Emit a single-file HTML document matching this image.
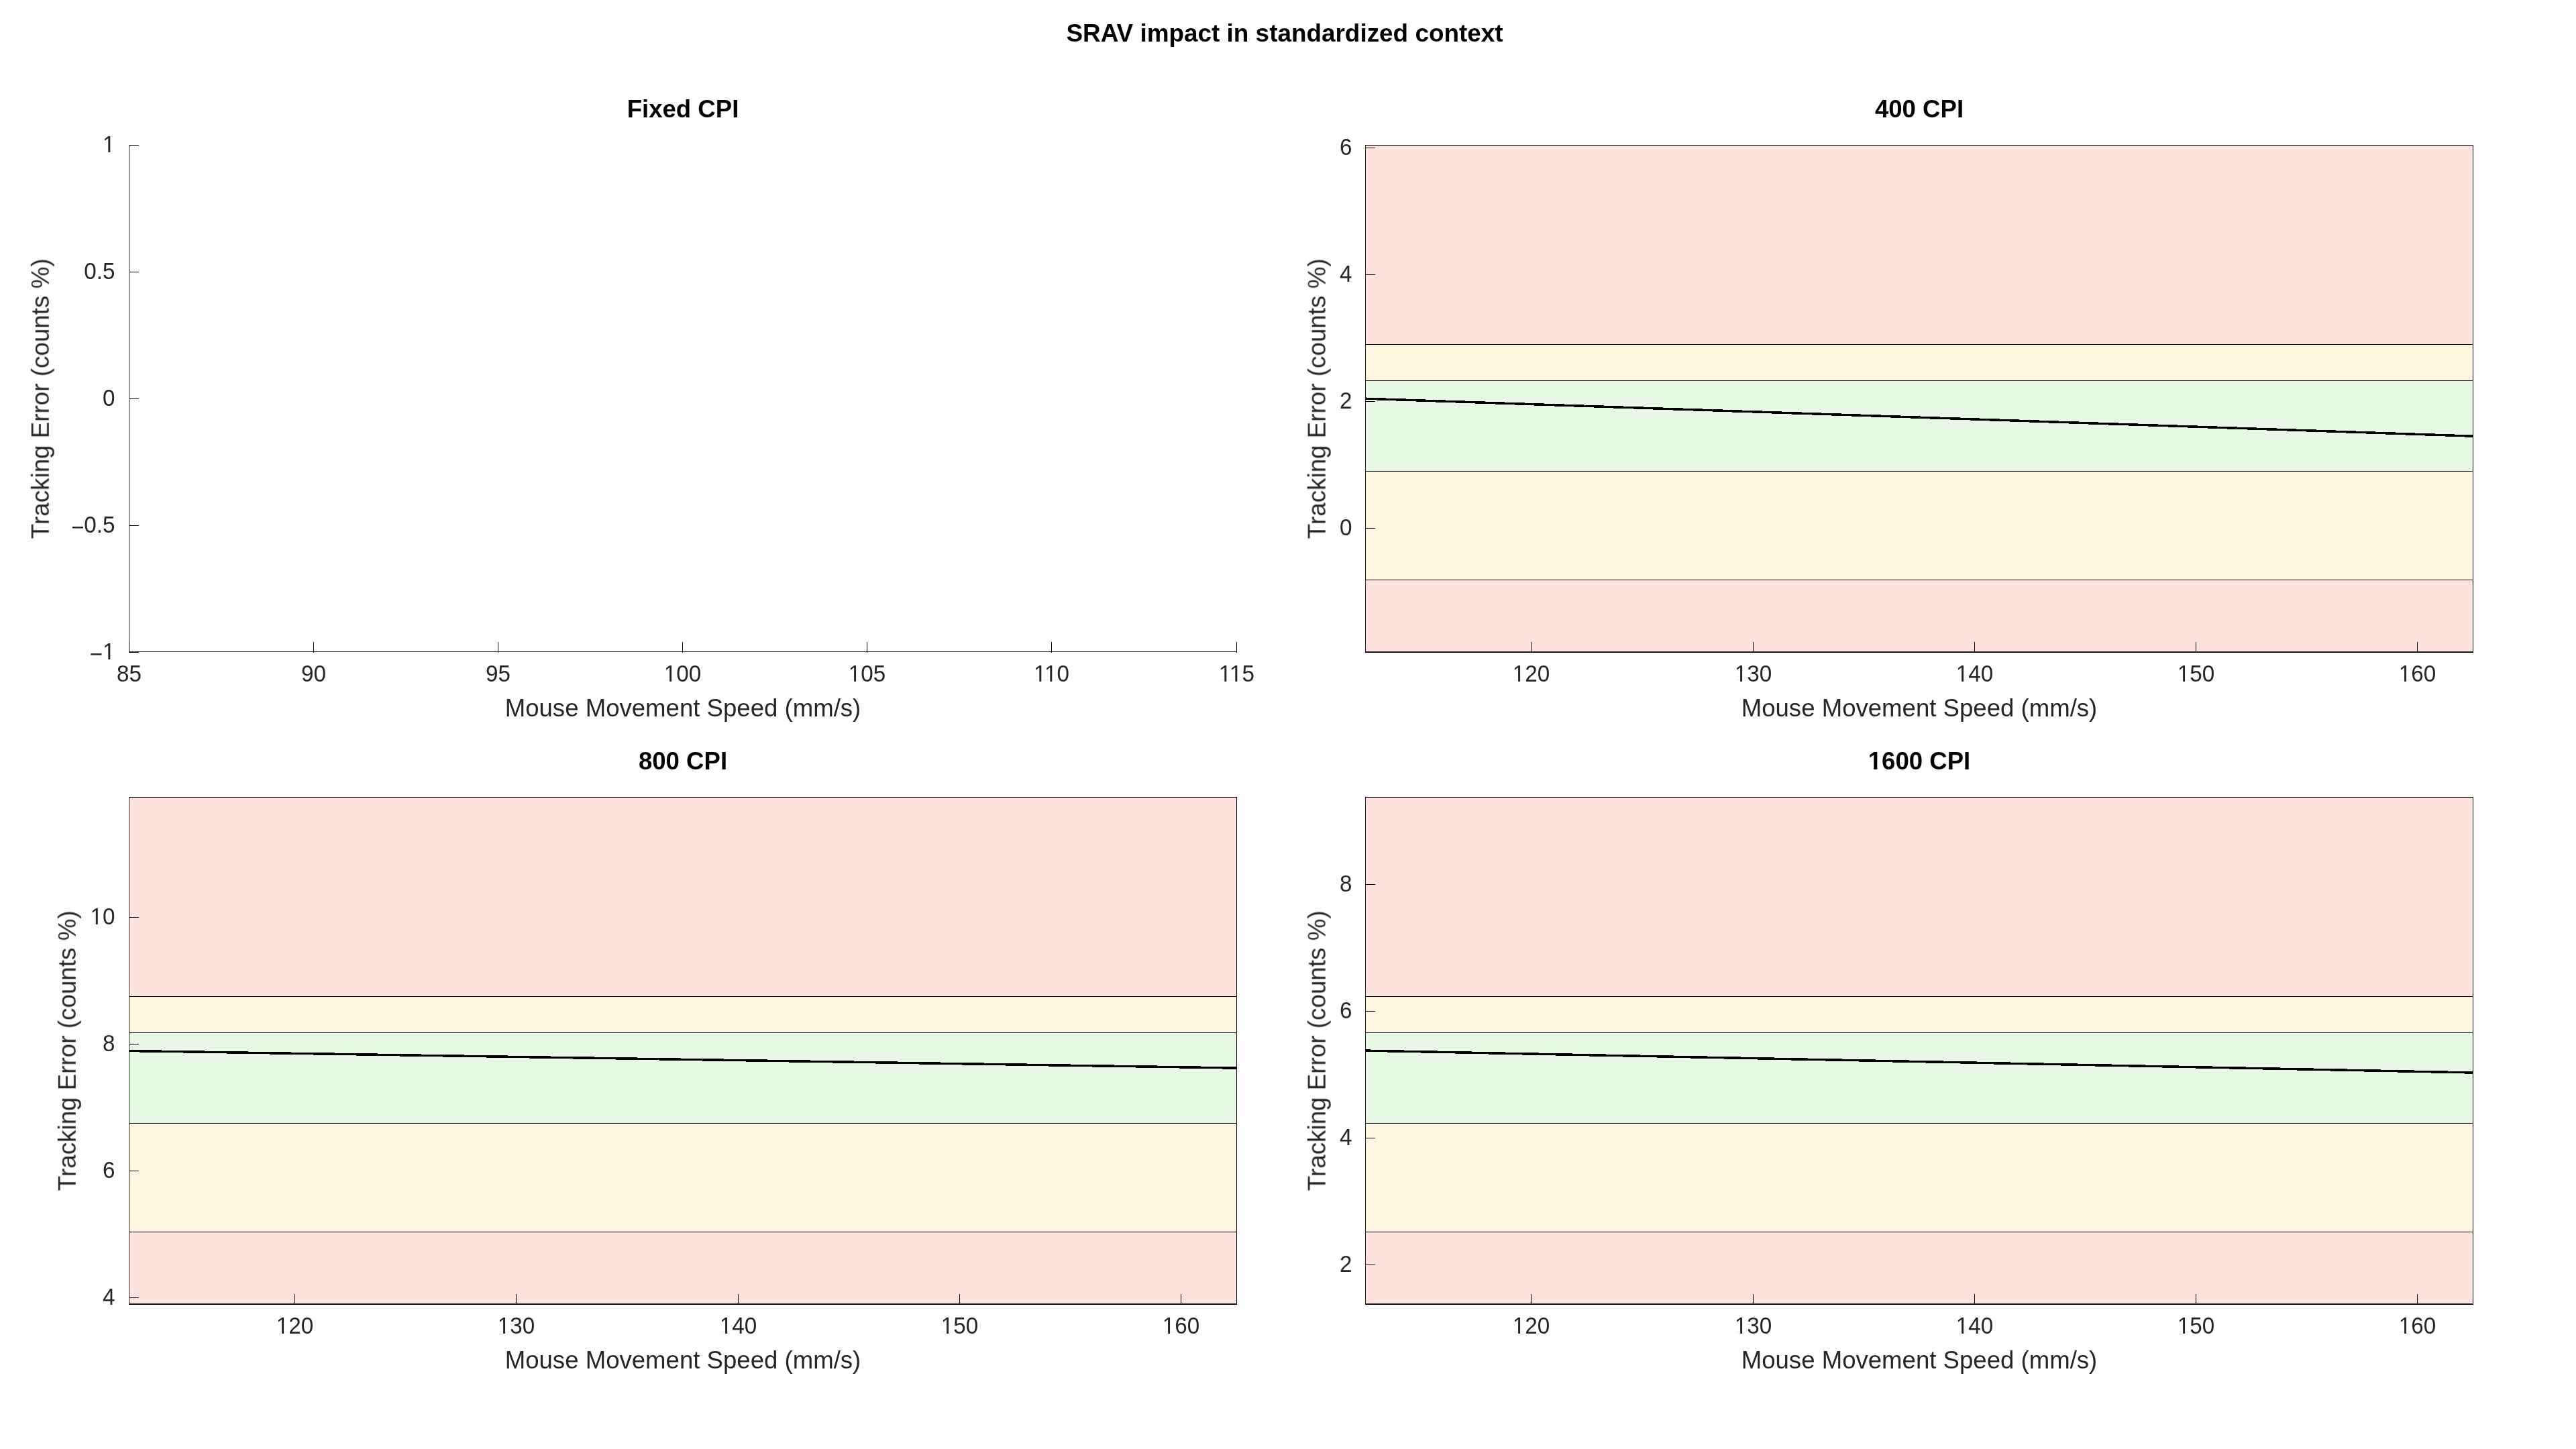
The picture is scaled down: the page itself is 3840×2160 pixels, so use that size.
<!DOCTYPE html>
<html><head><meta charset="utf-8"><title>SRAV impact in standardized context</title>
<style>
html,body{margin:0;padding:0;background:#fff;}
body{width:3840px;height:2160px;overflow:hidden;}
svg{display:block;font-family:"Liberation Sans",Arial,Helvetica,sans-serif;}
</style></head><body>
<svg xmlns="http://www.w3.org/2000/svg" width="3840" height="2160" viewBox="0 0 3840 2160" shape-rendering="crispEdges">
<rect x="0" y="0" width="3840" height="2160" fill="#fff"/>
<rect x="192" y="216" width="1" height="756" fill="#262626"/>
<rect x="192" y="971" width="1652" height="1" fill="#262626"/>
<rect x="192" y="216" width="15" height="1" fill="#000"/>
<rect x="192" y="405" width="15" height="1" fill="#000"/>
<rect x="192" y="594" width="15" height="1" fill="#000"/>
<rect x="192" y="783" width="15" height="1" fill="#000"/>
<rect x="192" y="972" width="15" height="1" fill="#000"/>
<rect x="192" y="957" width="1" height="16" fill="#000"/>
<rect x="467" y="957" width="1" height="16" fill="#000"/>
<rect x="742" y="957" width="1" height="16" fill="#000"/>
<rect x="1017" y="957" width="1" height="16" fill="#000"/>
<rect x="1292" y="957" width="1" height="16" fill="#000"/>
<rect x="1567" y="957" width="1" height="16" fill="#000"/>
<rect x="1843" y="957" width="1" height="16" fill="#000"/>
<rect x="2035" y="216" width="1652" height="298" fill="#fde2de"/>
<rect x="2035" y="513" width="1652" height="55" fill="#fff7df"/>
<rect x="2035" y="567" width="1652" height="136" fill="#e7f8e5"/>
<rect x="2035" y="702" width="1652" height="163" fill="#fff7df"/>
<rect x="2035" y="864" width="1652" height="108" fill="#fde2de"/>
<rect x="2035" y="216" width="1652" height="1" fill="#000"/>
<rect x="2035" y="513" width="1652" height="1" fill="#000"/>
<rect x="2035" y="567" width="1652" height="1" fill="#000"/>
<rect x="2035" y="702" width="1652" height="1" fill="#000"/>
<rect x="2035" y="864" width="1652" height="1" fill="#000"/>
<rect x="2035" y="971" width="1652" height="1" fill="#000"/>
<rect x="3686" y="216" width="1" height="756" fill="#000"/>
<rect x="2035" y="216" width="1" height="756" fill="#000"/>
<rect x="2035" y="972" width="1652" height="1" fill="#000"/>
<polygon points="2035,592.45 3687,648.45 3687,651.95 2035,595.95" fill="#000" shape-rendering="crispEdges"/>
<rect x="2035" y="216" width="1" height="756" fill="#262626"/>
<rect x="2035" y="971" width="1652" height="1" fill="#262626"/>
<rect x="2035" y="220" width="15" height="1" fill="#000"/>
<rect x="2035" y="409" width="15" height="1" fill="#000"/>
<rect x="2035" y="598" width="15" height="1" fill="#000"/>
<rect x="2035" y="787" width="15" height="1" fill="#000"/>
<rect x="2282" y="957" width="1" height="16" fill="#000"/>
<rect x="2613" y="957" width="1" height="16" fill="#000"/>
<rect x="2943" y="957" width="1" height="16" fill="#000"/>
<rect x="3273" y="957" width="1" height="16" fill="#000"/>
<rect x="3603" y="957" width="1" height="16" fill="#000"/>
<rect x="192" y="1188" width="1652" height="298" fill="#fde2de"/>
<rect x="192" y="1485" width="1652" height="55" fill="#fff7df"/>
<rect x="192" y="1539" width="1652" height="136" fill="#e7f8e5"/>
<rect x="192" y="1674" width="1652" height="163" fill="#fff7df"/>
<rect x="192" y="1836" width="1652" height="108" fill="#fde2de"/>
<rect x="192" y="1188" width="1652" height="1" fill="#000"/>
<rect x="192" y="1485" width="1652" height="1" fill="#000"/>
<rect x="192" y="1539" width="1652" height="1" fill="#000"/>
<rect x="192" y="1674" width="1652" height="1" fill="#000"/>
<rect x="192" y="1836" width="1652" height="1" fill="#000"/>
<rect x="192" y="1943" width="1652" height="1" fill="#000"/>
<rect x="1843" y="1188" width="1" height="756" fill="#000"/>
<rect x="192" y="1188" width="1" height="756" fill="#000"/>
<rect x="192" y="1944" width="1652" height="1" fill="#000"/>
<polygon points="192,1564.75 1844,1590.35 1844,1593.85 192,1568.25" fill="#000" shape-rendering="crispEdges"/>
<rect x="192" y="1188" width="1" height="756" fill="#262626"/>
<rect x="192" y="1943" width="1652" height="1" fill="#262626"/>
<rect x="192" y="1367" width="15" height="1" fill="#000"/>
<rect x="192" y="1556" width="15" height="1" fill="#000"/>
<rect x="192" y="1745" width="15" height="1" fill="#000"/>
<rect x="192" y="1934" width="15" height="1" fill="#000"/>
<rect x="439" y="1929" width="1" height="16" fill="#000"/>
<rect x="769" y="1929" width="1" height="16" fill="#000"/>
<rect x="1100" y="1929" width="1" height="16" fill="#000"/>
<rect x="1430" y="1929" width="1" height="16" fill="#000"/>
<rect x="1760" y="1929" width="1" height="16" fill="#000"/>
<rect x="2035" y="1188" width="1652" height="298" fill="#fde2de"/>
<rect x="2035" y="1485" width="1652" height="55" fill="#fff7df"/>
<rect x="2035" y="1539" width="1652" height="136" fill="#e7f8e5"/>
<rect x="2035" y="1674" width="1652" height="163" fill="#fff7df"/>
<rect x="2035" y="1836" width="1652" height="108" fill="#fde2de"/>
<rect x="2035" y="1188" width="1652" height="1" fill="#000"/>
<rect x="2035" y="1485" width="1652" height="1" fill="#000"/>
<rect x="2035" y="1539" width="1652" height="1" fill="#000"/>
<rect x="2035" y="1674" width="1652" height="1" fill="#000"/>
<rect x="2035" y="1836" width="1652" height="1" fill="#000"/>
<rect x="2035" y="1943" width="1652" height="1" fill="#000"/>
<rect x="3686" y="1188" width="1" height="756" fill="#000"/>
<rect x="2035" y="1188" width="1" height="756" fill="#000"/>
<rect x="2035" y="1944" width="1652" height="1" fill="#000"/>
<polygon points="2035,1564.35 3687,1597.25 3687,1600.75 2035,1567.85" fill="#000" shape-rendering="crispEdges"/>
<rect x="2035" y="1188" width="1" height="756" fill="#262626"/>
<rect x="2035" y="1943" width="1652" height="1" fill="#262626"/>
<rect x="2035" y="1318" width="15" height="1" fill="#000"/>
<rect x="2035" y="1507" width="15" height="1" fill="#000"/>
<rect x="2035" y="1696" width="15" height="1" fill="#000"/>
<rect x="2035" y="1885" width="15" height="1" fill="#000"/>
<rect x="2282" y="1929" width="1" height="16" fill="#000"/>
<rect x="2613" y="1929" width="1" height="16" fill="#000"/>
<rect x="2943" y="1929" width="1" height="16" fill="#000"/>
<rect x="3273" y="1929" width="1" height="16" fill="#000"/>
<rect x="3603" y="1929" width="1" height="16" fill="#000"/>
<g opacity="0.999">
<g transform="translate(1915,62)"><text x="0" y="0" font-size="36.9" text-anchor="middle" font-weight="bold" fill="#000">SRAV impact in standardized context</text></g>
<g transform="translate(171.5,226.8) scale(1,1.055)"><text x="0" y="0" font-size="33.25" text-anchor="end" font-weight="normal" fill="#262626">1</text><rect x="-16.752" y="-2.734" width="6.628" height="3.934" fill="#fff" shape-rendering="geometricPrecision"/><rect x="-7.185" y="-2.734" width="6.369" height="3.934" fill="#fff" shape-rendering="geometricPrecision"/></g>
<g transform="translate(171.5,415.8) scale(1,1.055)"><text x="0" y="0" font-size="33.25" text-anchor="end" font-weight="normal" fill="#262626">0.5</text></g>
<g transform="translate(171.5,604.8) scale(1,1.055)"><text x="0" y="0" font-size="33.25" text-anchor="end" font-weight="normal" fill="#262626">0</text></g>
<g transform="translate(171.5,793.8) scale(1,1.055)"><text x="0" y="0" font-size="33.25" text-anchor="end" font-weight="normal" fill="#262626"><tspan dy="4">−</tspan><tspan dy="-4">0.5</tspan></text></g>
<g transform="translate(171.5,982.8) scale(1,1.055)"><text x="0" y="0" font-size="33.25" text-anchor="end" font-weight="normal" fill="#262626"><tspan dy="4">−</tspan><tspan dy="-4">1</tspan></text><rect x="-16.752" y="-2.734" width="6.628" height="3.934" fill="#fff" shape-rendering="geometricPrecision"/><rect x="-7.185" y="-2.734" width="6.369" height="3.934" fill="#fff" shape-rendering="geometricPrecision"/></g>
<g transform="translate(192.5,1016) scale(1,1.055)"><text x="0" y="0" font-size="33.25" text-anchor="middle" font-weight="normal" fill="#262626">85</text></g>
<g transform="translate(467.5,1016) scale(1,1.055)"><text x="0" y="0" font-size="33.25" text-anchor="middle" font-weight="normal" fill="#262626">90</text></g>
<g transform="translate(742.5,1016) scale(1,1.055)"><text x="0" y="0" font-size="33.25" text-anchor="middle" font-weight="normal" fill="#262626">95</text></g>
<g transform="translate(1017.5,1016) scale(1,1.055)"><text x="0" y="0" font-size="33.25" text-anchor="middle" font-weight="normal" fill="#262626">100</text><rect x="-25.995" y="-2.734" width="6.628" height="3.934" fill="#fff" shape-rendering="geometricPrecision"/><rect x="-16.427" y="-2.734" width="6.369" height="3.934" fill="#fff" shape-rendering="geometricPrecision"/></g>
<g transform="translate(1292.5,1016) scale(1,1.055)"><text x="0" y="0" font-size="33.25" text-anchor="middle" font-weight="normal" fill="#262626">105</text><rect x="-25.995" y="-2.734" width="6.628" height="3.934" fill="#fff" shape-rendering="geometricPrecision"/><rect x="-16.427" y="-2.734" width="6.369" height="3.934" fill="#fff" shape-rendering="geometricPrecision"/></g>
<g transform="translate(1567.5,1016) scale(1,1.055)"><text x="0" y="0" font-size="33.25" text-anchor="middle" font-weight="normal" fill="#262626">110</text><rect x="-24.756" y="-2.734" width="6.628" height="3.934" fill="#fff" shape-rendering="geometricPrecision"/><rect x="-15.189" y="-2.734" width="6.369" height="3.934" fill="#fff" shape-rendering="geometricPrecision"/><rect x="-8.749" y="-2.734" width="6.628" height="3.934" fill="#fff" shape-rendering="geometricPrecision"/><rect x="0.818" y="-2.734" width="6.369" height="3.934" fill="#fff" shape-rendering="geometricPrecision"/></g>
<g transform="translate(1843.5,1016) scale(1,1.055)"><text x="0" y="0" font-size="33.25" text-anchor="middle" font-weight="normal" fill="#262626">115</text><rect x="-24.756" y="-2.734" width="6.628" height="3.934" fill="#fff" shape-rendering="geometricPrecision"/><rect x="-15.189" y="-2.734" width="6.369" height="3.934" fill="#fff" shape-rendering="geometricPrecision"/><rect x="-8.749" y="-2.734" width="6.628" height="3.934" fill="#fff" shape-rendering="geometricPrecision"/><rect x="0.818" y="-2.734" width="6.369" height="3.934" fill="#fff" shape-rendering="geometricPrecision"/></g>
<g transform="translate(1018.0,174.9)"><text x="0" y="0" font-size="36.6" text-anchor="middle" font-weight="bold" fill="#000">Fixed CPI</text></g>
<g transform="translate(1018.0,1067.8)"><text x="0" y="0" font-size="36.6" text-anchor="middle" font-weight="normal" fill="#262626">Mouse Movement Speed (mm/s)</text></g>
<text x="0" y="0" font-size="36.8" text-anchor="middle" fill="#262626" transform="translate(72.8,594.3) rotate(-90)">Tracking Error (counts %)</text>
<g transform="translate(2015.5,230.8) scale(1,1.055)"><text x="0" y="0" font-size="33.25" text-anchor="end" font-weight="normal" fill="#262626">6</text></g>
<g transform="translate(2015.5,419.8) scale(1,1.055)"><text x="0" y="0" font-size="33.25" text-anchor="end" font-weight="normal" fill="#262626">4</text></g>
<g transform="translate(2015.5,608.8) scale(1,1.055)"><text x="0" y="0" font-size="33.25" text-anchor="end" font-weight="normal" fill="#262626">2</text></g>
<g transform="translate(2015.5,797.8) scale(1,1.055)"><text x="0" y="0" font-size="33.25" text-anchor="end" font-weight="normal" fill="#262626">0</text></g>
<g transform="translate(2282.5,1016) scale(1,1.055)"><text x="0" y="0" font-size="33.25" text-anchor="middle" font-weight="normal" fill="#262626">120</text><rect x="-25.995" y="-2.734" width="6.628" height="3.934" fill="#fff" shape-rendering="geometricPrecision"/><rect x="-16.427" y="-2.734" width="6.369" height="3.934" fill="#fff" shape-rendering="geometricPrecision"/></g>
<g transform="translate(2613.5,1016) scale(1,1.055)"><text x="0" y="0" font-size="33.25" text-anchor="middle" font-weight="normal" fill="#262626">130</text><rect x="-25.995" y="-2.734" width="6.628" height="3.934" fill="#fff" shape-rendering="geometricPrecision"/><rect x="-16.427" y="-2.734" width="6.369" height="3.934" fill="#fff" shape-rendering="geometricPrecision"/></g>
<g transform="translate(2943.5,1016) scale(1,1.055)"><text x="0" y="0" font-size="33.25" text-anchor="middle" font-weight="normal" fill="#262626">140</text><rect x="-25.995" y="-2.734" width="6.628" height="3.934" fill="#fff" shape-rendering="geometricPrecision"/><rect x="-16.427" y="-2.734" width="6.369" height="3.934" fill="#fff" shape-rendering="geometricPrecision"/></g>
<g transform="translate(3273.5,1016) scale(1,1.055)"><text x="0" y="0" font-size="33.25" text-anchor="middle" font-weight="normal" fill="#262626">150</text><rect x="-25.995" y="-2.734" width="6.628" height="3.934" fill="#fff" shape-rendering="geometricPrecision"/><rect x="-16.427" y="-2.734" width="6.369" height="3.934" fill="#fff" shape-rendering="geometricPrecision"/></g>
<g transform="translate(3603.5,1016) scale(1,1.055)"><text x="0" y="0" font-size="33.25" text-anchor="middle" font-weight="normal" fill="#262626">160</text><rect x="-25.995" y="-2.734" width="6.628" height="3.934" fill="#fff" shape-rendering="geometricPrecision"/><rect x="-16.427" y="-2.734" width="6.369" height="3.934" fill="#fff" shape-rendering="geometricPrecision"/></g>
<g transform="translate(2861.0,174.9)"><text x="0" y="0" font-size="36.6" text-anchor="middle" font-weight="bold" fill="#000">400 CPI</text></g>
<g transform="translate(2861.0,1067.8)"><text x="0" y="0" font-size="36.6" text-anchor="middle" font-weight="normal" fill="#262626">Mouse Movement Speed (mm/s)</text></g>
<text x="0" y="0" font-size="36.8" text-anchor="middle" fill="#262626" transform="translate(1975.7,594.3) rotate(-90)">Tracking Error (counts %)</text>
<g transform="translate(171.5,1377.8) scale(1,1.055)"><text x="0" y="0" font-size="33.25" text-anchor="end" font-weight="normal" fill="#262626">10</text><rect x="-35.237" y="-2.734" width="6.628" height="3.934" fill="#fff" shape-rendering="geometricPrecision"/><rect x="-25.670" y="-2.734" width="6.369" height="3.934" fill="#fff" shape-rendering="geometricPrecision"/></g>
<g transform="translate(171.5,1566.8) scale(1,1.055)"><text x="0" y="0" font-size="33.25" text-anchor="end" font-weight="normal" fill="#262626">8</text></g>
<g transform="translate(171.5,1755.8) scale(1,1.055)"><text x="0" y="0" font-size="33.25" text-anchor="end" font-weight="normal" fill="#262626">6</text></g>
<g transform="translate(171.5,1944.8) scale(1,1.055)"><text x="0" y="0" font-size="33.25" text-anchor="end" font-weight="normal" fill="#262626">4</text></g>
<g transform="translate(439.5,1988) scale(1,1.055)"><text x="0" y="0" font-size="33.25" text-anchor="middle" font-weight="normal" fill="#262626">120</text><rect x="-25.995" y="-2.734" width="6.628" height="3.934" fill="#fff" shape-rendering="geometricPrecision"/><rect x="-16.427" y="-2.734" width="6.369" height="3.934" fill="#fff" shape-rendering="geometricPrecision"/></g>
<g transform="translate(769.5,1988) scale(1,1.055)"><text x="0" y="0" font-size="33.25" text-anchor="middle" font-weight="normal" fill="#262626">130</text><rect x="-25.995" y="-2.734" width="6.628" height="3.934" fill="#fff" shape-rendering="geometricPrecision"/><rect x="-16.427" y="-2.734" width="6.369" height="3.934" fill="#fff" shape-rendering="geometricPrecision"/></g>
<g transform="translate(1100.5,1988) scale(1,1.055)"><text x="0" y="0" font-size="33.25" text-anchor="middle" font-weight="normal" fill="#262626">140</text><rect x="-25.995" y="-2.734" width="6.628" height="3.934" fill="#fff" shape-rendering="geometricPrecision"/><rect x="-16.427" y="-2.734" width="6.369" height="3.934" fill="#fff" shape-rendering="geometricPrecision"/></g>
<g transform="translate(1430.5,1988) scale(1,1.055)"><text x="0" y="0" font-size="33.25" text-anchor="middle" font-weight="normal" fill="#262626">150</text><rect x="-25.995" y="-2.734" width="6.628" height="3.934" fill="#fff" shape-rendering="geometricPrecision"/><rect x="-16.427" y="-2.734" width="6.369" height="3.934" fill="#fff" shape-rendering="geometricPrecision"/></g>
<g transform="translate(1760.5,1988) scale(1,1.055)"><text x="0" y="0" font-size="33.25" text-anchor="middle" font-weight="normal" fill="#262626">160</text><rect x="-25.995" y="-2.734" width="6.628" height="3.934" fill="#fff" shape-rendering="geometricPrecision"/><rect x="-16.427" y="-2.734" width="6.369" height="3.934" fill="#fff" shape-rendering="geometricPrecision"/></g>
<g transform="translate(1018.0,1146.9)"><text x="0" y="0" font-size="36.6" text-anchor="middle" font-weight="bold" fill="#000">800 CPI</text></g>
<g transform="translate(1018.0,2039.8)"><text x="0" y="0" font-size="36.6" text-anchor="middle" font-weight="normal" fill="#262626">Mouse Movement Speed (mm/s)</text></g>
<text x="0" y="0" font-size="36.8" text-anchor="middle" fill="#262626" transform="translate(112.8,1566.3) rotate(-90)">Tracking Error (counts %)</text>
<g transform="translate(2015.5,1328.8) scale(1,1.055)"><text x="0" y="0" font-size="33.25" text-anchor="end" font-weight="normal" fill="#262626">8</text></g>
<g transform="translate(2015.5,1517.8) scale(1,1.055)"><text x="0" y="0" font-size="33.25" text-anchor="end" font-weight="normal" fill="#262626">6</text></g>
<g transform="translate(2015.5,1706.8) scale(1,1.055)"><text x="0" y="0" font-size="33.25" text-anchor="end" font-weight="normal" fill="#262626">4</text></g>
<g transform="translate(2015.5,1895.8) scale(1,1.055)"><text x="0" y="0" font-size="33.25" text-anchor="end" font-weight="normal" fill="#262626">2</text></g>
<g transform="translate(2282.5,1988) scale(1,1.055)"><text x="0" y="0" font-size="33.25" text-anchor="middle" font-weight="normal" fill="#262626">120</text><rect x="-25.995" y="-2.734" width="6.628" height="3.934" fill="#fff" shape-rendering="geometricPrecision"/><rect x="-16.427" y="-2.734" width="6.369" height="3.934" fill="#fff" shape-rendering="geometricPrecision"/></g>
<g transform="translate(2613.5,1988) scale(1,1.055)"><text x="0" y="0" font-size="33.25" text-anchor="middle" font-weight="normal" fill="#262626">130</text><rect x="-25.995" y="-2.734" width="6.628" height="3.934" fill="#fff" shape-rendering="geometricPrecision"/><rect x="-16.427" y="-2.734" width="6.369" height="3.934" fill="#fff" shape-rendering="geometricPrecision"/></g>
<g transform="translate(2943.5,1988) scale(1,1.055)"><text x="0" y="0" font-size="33.25" text-anchor="middle" font-weight="normal" fill="#262626">140</text><rect x="-25.995" y="-2.734" width="6.628" height="3.934" fill="#fff" shape-rendering="geometricPrecision"/><rect x="-16.427" y="-2.734" width="6.369" height="3.934" fill="#fff" shape-rendering="geometricPrecision"/></g>
<g transform="translate(3273.5,1988) scale(1,1.055)"><text x="0" y="0" font-size="33.25" text-anchor="middle" font-weight="normal" fill="#262626">150</text><rect x="-25.995" y="-2.734" width="6.628" height="3.934" fill="#fff" shape-rendering="geometricPrecision"/><rect x="-16.427" y="-2.734" width="6.369" height="3.934" fill="#fff" shape-rendering="geometricPrecision"/></g>
<g transform="translate(3603.5,1988) scale(1,1.055)"><text x="0" y="0" font-size="33.25" text-anchor="middle" font-weight="normal" fill="#262626">160</text><rect x="-25.995" y="-2.734" width="6.628" height="3.934" fill="#fff" shape-rendering="geometricPrecision"/><rect x="-16.427" y="-2.734" width="6.369" height="3.934" fill="#fff" shape-rendering="geometricPrecision"/></g>
<g transform="translate(2861.0,1146.9)"><text x="0" y="0" font-size="36.6" text-anchor="middle" font-weight="bold" fill="#000">1600 CPI</text><rect x="-74.752" y="-3.985" width="7.037" height="5.185" fill="#fff" shape-rendering="geometricPrecision"/><rect x="-62.694" y="-3.985" width="6.572" height="5.185" fill="#fff" shape-rendering="geometricPrecision"/></g>
<g transform="translate(2861.0,2039.8)"><text x="0" y="0" font-size="36.6" text-anchor="middle" font-weight="normal" fill="#262626">Mouse Movement Speed (mm/s)</text></g>
<text x="0" y="0" font-size="36.8" text-anchor="middle" fill="#262626" transform="translate(1975.7,1566.3) rotate(-90)">Tracking Error (counts %)</text>
</g>
</svg>
</body></html>
